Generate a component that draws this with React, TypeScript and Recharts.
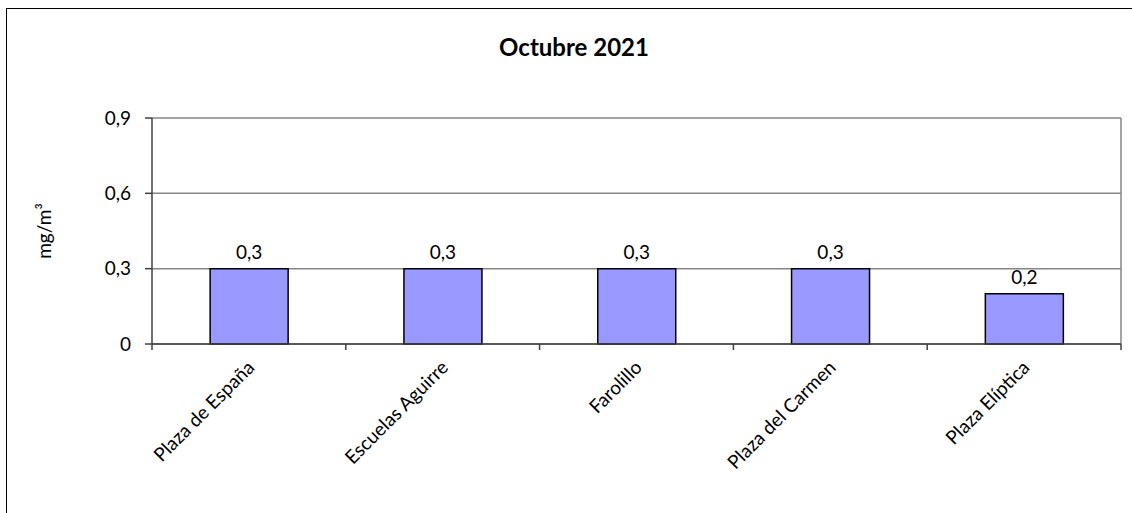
import React from 'react';
import { BarChart, Bar, XAxis, YAxis, CartesianGrid, LabelList, Label } from 'recharts';

const stations = ['Plaza de España', 'Escuelas Aguirre', 'Farolillo', 'Plaza del Carmen', 'Plaza Elíptica'];
const values = [0.3, 0.3, 0.3, 0.3, 0.2];
const yTicks = [0, 0.3, 0.6, 0.9];

const data = stations.map((name, i) => ({ name, value: values[i] }));

const FONT = 'Lato, "Open Sans", sans-serif';
const AXIS = '#404040';
const fmt = (v: number) => String(v).replace('.', ',');

// category label + tick marks on the band boundaries (Excel style)
const StationTick = (props: any) => {
  const { x, y, payload, index, width, visibleTicksCount } = props;
  const count = visibleTicksCount || stations.length;
  const band = (width || 969) / count;
  const top = y - 6;
  return (
    <g>
      {index === 0 && (
        <line x1={x - band / 2} x2={x - band / 2} y1={top} y2={y} stroke={AXIS} strokeWidth={1.5} />
      )}
      <line x1={x + band / 2} x2={x + band / 2} y1={top} y2={y} stroke={AXIS} strokeWidth={1.5} />
      <g transform={`translate(${x + 2},${y + 14})`}>
        <text
          textAnchor="end"
          transform="rotate(-45)"
          dy="0.35em"
          fontSize={19}
          fontFamily={FONT}
          fill="#000"
        >
          {payload.value}
        </text>
      </g>
    </g>
  );
};

const App: React.FC = () => {
  return (
    <div
      style={{
        position: 'absolute',
        left: 0,
        top: 0,
        width: 1132,
        height: 513,
        overflow: 'hidden',
        background: '#fff',
        fontFamily: FONT,
      }}
    >
      <div
        style={{
          position: 'absolute',
          left: 6,
          top: 8,
          width: 1140,
          height: 520,
          border: '1.5px solid #000',
        }}
      />
      <div
        style={{
          position: 'absolute',
          left: 6,
          width: 1136,
          top: 32,
          textAlign: 'center',
          fontWeight: 'bold',
          fontSize: 24,
          color: '#000',
        }}
      >
        Octubre 2021
      </div>
      <div style={{ position: 'absolute', left: 0, top: 0 }}>
        <BarChart
          width={1132}
          height={513}
          data={data}
          margin={{ top: 118, right: 11, left: 92, bottom: 49 }}
          barCategoryGap="30%"
        >
          <CartesianGrid
            stroke="#868686"
            strokeWidth={1.5}
            horizontal={true}
            vertical={true}
            verticalCoordinatesGenerator={({ offset }: any) => [offset.left + offset.width]}
          />
          <XAxis
            dataKey="name"
            height={120}
            interval={0}
            tickLine={false}
            tickSize={6}
            tickMargin={0}
            axisLine={{ stroke: AXIS, strokeWidth: 1.5 }}
            tick={<StationTick />}
          />
          <YAxis
            width={60}
            domain={[0, 0.9]}
            ticks={yTicks}
            interval={0}
            tickFormatter={fmt}
            axisLine={{ stroke: AXIS, strokeWidth: 1.5 }}
            tickLine={{ stroke: AXIS, strokeWidth: 1.5 }}
            tickSize={7}
            tickMargin={14}
            tick={{ fontSize: 19, fontFamily: FONT, fill: '#000' }}
          >
            <Label
              angle={-90}
              position="left"
              offset={48}
              style={{ textAnchor: 'middle', fontSize: 19, fontFamily: FONT, fill: '#000' }}
              value="mg/m³"
            />
          </YAxis>
          <Bar dataKey="value" fill="#9999FF" stroke="#000" strokeWidth={1.5} isAnimationActive={false}>
            <LabelList
              dataKey="value"
              position="top"
              offset={10}
              formatter={(v: any) => fmt(v)}
              style={{ fontSize: 19, fontFamily: FONT, fill: '#000' }}
            />
          </Bar>
        </BarChart>
      </div>
    </div>
  );
};

export default App;
